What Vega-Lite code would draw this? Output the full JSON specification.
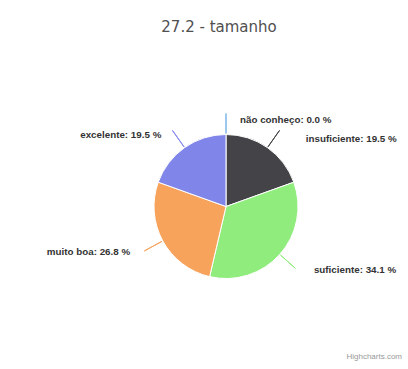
{
  "$schema": "https://vega.github.io/schema/vega-lite/v6.json",
  "width": 408,
  "height": 369,
  "autosize": {"type": "fit", "contains": "padding"},
  "padding": {"left": 44, "top": 20, "right": 0, "bottom": 8},
  "background": "white",
  "config": {"view": {"stroke": null}},
  "title": {"text": "27.2 - tamanho", "fontSize": 15, "font": "DejaVu Sans", "fontWeight": "normal", "color": "#4f4f4f", "dx": -7, "offset": 20},
  "data": {"values": [
    {"resposta": "não conheço", "pct": 0.0, "k": 0, "rotulo": "não conheço: 0.0 %"},
    {"resposta": "insuficiente", "pct": 19.5, "k": 1, "rotulo": "insuficiente: 19.5 %"},
    {"resposta": "suficiente", "pct": 34.1, "k": 2, "rotulo": "suficiente: 34.1 %"},
    {"resposta": "muito boa", "pct": 26.8, "k": 3, "rotulo": "muito boa: 26.8 %"},
    {"resposta": "excelente", "pct": 19.5, "k": 4, "rotulo": "excelente: 19.5 %"}
  ]},
  "layer": [
    {
      "mark": {"type": "arc", "outerRadius": 72, "stroke": "white", "strokeWidth": 1},
      "encoding": {
        "theta": {"field": "pct", "type": "quantitative", "stack": true},
        "order": {"field": "k", "type": "quantitative"},
        "color": {"field": "resposta", "type": "nominal", "legend": null,
          "scale": {"domain": ["não conheço", "insuficiente", "suficiente", "muito boa", "excelente"],
                    "range": ["#7cb5ec", "#434348", "#90ed7d", "#f7a35c", "#8085e9"]}}
      }
    },
    {
      "mark": {"type": "arc", "outerRadius": 93, "innerRadius": 73, "padAngle": 3, "filled": false, "strokeWidth": 1},
      "encoding": {
        "theta": {"field": "pct", "type": "quantitative", "stack": true},
        "order": {"field": "k", "type": "quantitative"},
        "color": {"field": "resposta", "type": "nominal", "legend": null,
          "scale": {"domain": ["não conheço", "insuficiente", "suficiente", "muito boa", "excelente"],
                    "range": ["#7cb5ec", "#434348", "#90ed7d", "#f7a35c", "#8085e9"]}}
      }
    },
    {
      "mark": {"type": "text", "radius": 87, "align": "left", "baseline": "middle", "dx": 14, "font": "Liberation Sans", "fontSize": 9.8, "fontWeight": "bold", "color": "#333333"},
      "encoding": {
        "theta": {"field": "pct", "type": "quantitative", "stack": true},
        "order": {"field": "k", "type": "quantitative"},
        "text": {"condition": {"test": "datum.resposta == 'não conheço'", "field": "rotulo", "type": "nominal"}, "value": ""}
      }
    },
    {
      "mark": {"type": "text", "radius": 90, "align": "left", "baseline": "middle", "dx": 28, "dy": 6, "font": "Liberation Sans", "fontSize": 9.8, "fontWeight": "bold", "color": "#333333"},
      "encoding": {
        "theta": {"field": "pct", "type": "quantitative", "stack": true},
        "order": {"field": "k", "type": "quantitative"},
        "text": {"condition": {"test": "datum.resposta == 'insuficiente'", "field": "rotulo", "type": "nominal"}, "value": ""}
      }
    },
    {
      "mark": {"type": "text", "radius": 95, "align": "left", "baseline": "middle", "dx": 17, "font": "Liberation Sans", "fontSize": 9.8, "fontWeight": "bold", "color": "#333333"},
      "encoding": {
        "theta": {"field": "pct", "type": "quantitative", "stack": true},
        "order": {"field": "k", "type": "quantitative"},
        "text": {"condition": {"test": "datum.resposta == 'suficiente'", "field": "rotulo", "type": "nominal"}, "value": ""}
      }
    },
    {
      "mark": {"type": "text", "radius": 100, "align": "right", "baseline": "middle", "dx": -8, "dy": -2, "font": "Liberation Sans", "fontSize": 9.8, "fontWeight": "bold", "color": "#333333"},
      "encoding": {
        "theta": {"field": "pct", "type": "quantitative", "stack": true},
        "order": {"field": "k", "type": "quantitative"},
        "text": {"condition": {"test": "datum.resposta == 'muito boa'", "field": "rotulo", "type": "nominal"}, "value": ""}
      }
    },
    {
      "mark": {"type": "text", "radius": 88, "align": "right", "baseline": "middle", "dx": -14, "font": "Liberation Sans", "fontSize": 9.8, "fontWeight": "bold", "color": "#333333"},
      "encoding": {
        "theta": {"field": "pct", "type": "quantitative", "stack": true},
        "order": {"field": "k", "type": "quantitative"},
        "text": {"condition": {"test": "datum.resposta == 'excelente'", "field": "rotulo", "type": "nominal"}, "value": ""}
      }
    },
    {
      "data": {"values": [{"credito": "Highcharts.com"}]},
      "mark": {"type": "text", "align": "right", "baseline": "bottom", "dx": -6, "dy": 3, "font": "Liberation Sans", "fontSize": 8, "color": "#999999"},
      "encoding": {
        "x": {"value": "width"},
        "y": {"value": "height"},
        "text": {"field": "credito", "type": "nominal"}
      }
    }
  ]
}
